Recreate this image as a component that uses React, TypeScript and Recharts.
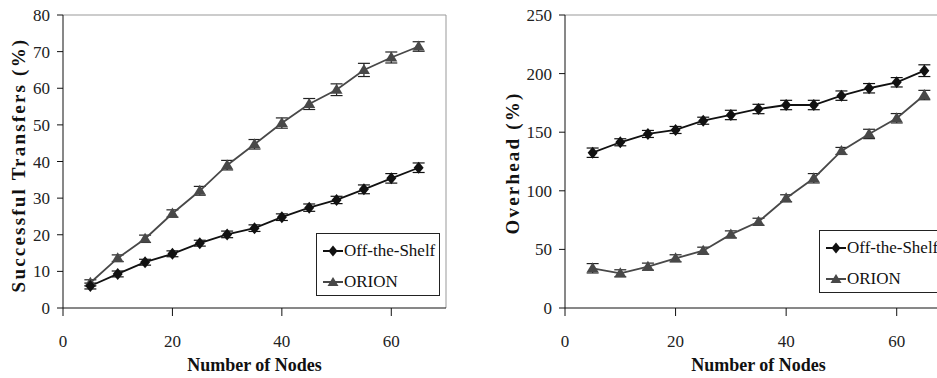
import React from "react";
import {
  LineChart,
  Line,
  XAxis,
  YAxis,
  ErrorBar,
  Label,
  ReferenceLine,
} from "recharts";

// x values (number of nodes)
const nodes = [5, 10, 15, 20, 25, 30, 35, 40, 45, 50, 55, 60, 65];

// left panel: successful transfers (%)
const transferOffShelf = [6.0, 9.3, 12.5, 14.8, 17.7, 20.1, 21.8, 24.8, 27.4, 29.5, 32.4, 35.4, 38.3];
const transferOffShelfErr = [0.8, 0.8, 0.8, 0.8, 0.8, 0.9, 0.9, 0.9, 1.0, 1.0, 1.2, 1.3, 1.3];
const transferOrion = [6.9, 13.6, 18.9, 25.8, 32.0, 39.0, 44.7, 50.5, 55.7, 59.6, 65.0, 68.4, 71.4];
const transferOrionErr = [0.8, 0.9, 1.0, 1.0, 1.2, 1.3, 1.3, 1.4, 1.5, 1.6, 1.8, 1.5, 1.3];

// right panel: overhead (%)
const overheadOffShelf = [132.5, 141.4, 148.5, 151.9, 159.8, 164.7, 169.8, 173.2, 173.2, 181.2, 187.5, 192.6, 202.5];
const overheadOffShelfErr = [4, 3, 3, 3, 3, 4, 4, 4, 4, 4, 4, 4, 5];
const overheadOrion = [33.9, 29.6, 35.3, 42.4, 48.9, 62.8, 73.6, 93.6, 110.7, 134.0, 148.5, 161.9, 181.7];
const overheadOrionErr = [4, 3, 3, 3, 3, 3, 3, 3, 4, 3, 4, 4, 4];

const xTicks = [0, 20, 40, 60];
const transferTicks = [0, 10, 20, 30, 40, 50, 60, 70, 80];
const overheadTicks = [0, 50, 100, 150, 200, 250];

const seriesNames = ["Off-the-Shelf", "ORION"];

const buildRows = (a: number[], aErr: number[], b: number[], bErr: number[]) =>
  nodes.map((n, i) => ({ n, off: a[i], offErr: aErr[i], orion: b[i], orionErr: bErr[i] }));

const transferRows = buildRows(transferOffShelf, transferOffShelfErr, transferOrion, transferOrionErr);
const overheadRows = buildRows(overheadOffShelf, overheadOffShelfErr, overheadOrion, overheadOrionErr);

const OFF_COLOR = "#111";
const ORION_COLOR = "#484848";
const FONT = "Liberation Serif";

const Diamond = (props: any) => {
  const { cx, cy, index } = props;
  if (cx == null || cy == null) return null;
  return (
    <path
      key={`dm-${index}`}
      d={`M${cx},${cy - 6} L${cx + 5},${cy} L${cx},${cy + 6} L${cx - 5},${cy} Z`}
      fill={OFF_COLOR}
    />
  );
};

const Triangle = (props: any) => {
  const { cx, cy, index } = props;
  if (cx == null || cy == null) return null;
  return (
    <path
      key={`tr-${index}`}
      d={`M${cx},${cy - 6} L${cx + 6},${cy + 4} L${cx - 6},${cy + 4} Z`}
      fill={ORION_COLOR}
    />
  );
};

const LegendIcon = ({ kind }: { kind: number }) => (
  <svg width={20} height={12} style={{ marginRight: 1, flex: "none" }}>
    <line x1={0} y1={6} x2={20} y2={6} stroke={kind === 0 ? OFF_COLOR : ORION_COLOR} strokeWidth={2} />
    {kind === 0 ? (
      <path d="M10,0.5 L14.5,6 L10,11.5 L5.5,6 Z" fill={OFF_COLOR} />
    ) : (
      <path d="M10,1 L15.5,10 L4.5,10 Z" fill={ORION_COLOR} />
    )}
  </svg>
);

const LegendBox = ({ left, top, width }: { left: number; top: number; width: number }) => (
  <div
    style={{
      position: "absolute",
      left,
      top,
      width,
      height: 63,
      boxSizing: "border-box",
      border: "1px solid #222",
      background: "#fff",
      padding: "1px 0 0 6px",
      fontFamily: FONT,
      fontSize: 17,
      color: "#111",
      whiteSpace: "nowrap",
      overflow: "hidden",
    }}
  >
    {seriesNames.map((name) => (
      <div key={name} style={{ display: "flex", alignItems: "center", height: 31 }}>
        <LegendIcon kind={seriesNames.indexOf(name)} />
        <span>{name}</span>
      </div>
    ))}
  </div>
);

const VerticalTitle = ({ text, x, y }: { text: string; x: number; y: number }) => (
  <text
    x={x}
    y={y}
    transform={`rotate(-90 ${x} ${y})`}
    textAnchor="middle"
    dominantBaseline="central"
    fontFamily={FONT}
    fontWeight="bold"
    fontSize={19}
    letterSpacing={2.2}
    fill="#111"
  >
    {text}
  </text>
);

interface PanelProps {
  rows: any[];
  yMax: number;
  yTicks: number[];
  yTitle: string;
  yAxisWidth: number;
  chartWidth: number;
  rightMargin: number;
  titleX: number;
  titleY: number;
}

const Panel = (p: PanelProps) => (
  <LineChart
    width={p.chartWidth}
    height={378}
    data={p.rows}
    margin={{ top: 15, right: p.rightMargin, left: 0, bottom: 0 }}
  >
    <ReferenceLine y={p.yMax} stroke="#999" strokeWidth={1} />
    <ReferenceLine x={70} stroke="#999" strokeWidth={1} />
    <XAxis
      dataKey="n"
      type="number"
      domain={[0, 70]}
      ticks={xTicks}
      height={70}
      tickSize={8}
      tickMargin={19}
      stroke="#111"
      tick={{ fill: "#222", fontSize: 17, fontFamily: FONT }}
    >
      <Label
        value="Number of Nodes"
        position="insideBottom"
        offset={7}
        style={{ fontFamily: FONT, fontWeight: "bold", fontSize: 18, fill: "#111" }}
      />
    </XAxis>
    <YAxis
      type="number"
      domain={[0, p.yMax]}
      ticks={p.yTicks}
      width={p.yAxisWidth}
      tickSize={6}
      tickMargin={7}
      stroke="#111"
      tick={{ fill: "#222", fontSize: 17, fontFamily: FONT }}
    >
      <Label content={() => <VerticalTitle text={p.yTitle} x={p.titleX} y={p.titleY} />} />
    </YAxis>
    <Line
      dataKey="orion"
      name={seriesNames[1]}
      stroke={ORION_COLOR}
      strokeWidth={1.8}
      dot={Triangle}
      activeDot={false}
      isAnimationActive={false}
    >
      <ErrorBar dataKey="orionErr" width={6} stroke="#222" strokeWidth={1.2} isAnimationActive={false} />
    </Line>
    <Line
      dataKey="off"
      name={seriesNames[0]}
      stroke={OFF_COLOR}
      strokeWidth={1.8}
      dot={Diamond}
      activeDot={false}
      isAnimationActive={false}
    >
      <ErrorBar dataKey="offErr" width={6} stroke="#111" strokeWidth={1.2} isAnimationActive={false} />
    </Line>
  </LineChart>
);

export default function App() {
  return (
    <div
      style={{
        position: "absolute",
        left: 0,
        top: 0,
        width: 937,
        height: 378,
        overflow: "hidden",
        background: "#fff",
        fontFamily: FONT,
      }}
    >
      <div style={{ position: "absolute", left: 0, top: 0 }}>
        <Panel
          rows={transferRows}
          yMax={80}
          yTicks={transferTicks}
          yTitle="Successful Transfers (%)"
          yAxisWidth={63}
          chartWidth={470}
          rightMargin={24}
          titleX={18}
          titleY={165}
        />
      </div>
      <div style={{ position: "absolute", left: 467, top: 0 }}>
        <Panel
          rows={overheadRows}
          yMax={250}
          yTicks={overheadTicks}
          yTitle="Overhead (%)"
          yAxisWidth={98}
          chartWidth={500}
          rightMargin={15}
          titleX={45}
          titleY={163}
        />
      </div>
      <LegendBox left={316} top={233} width={124} />
      <LegendBox left={819} top={230} width={140} />
    </div>
  );
}
